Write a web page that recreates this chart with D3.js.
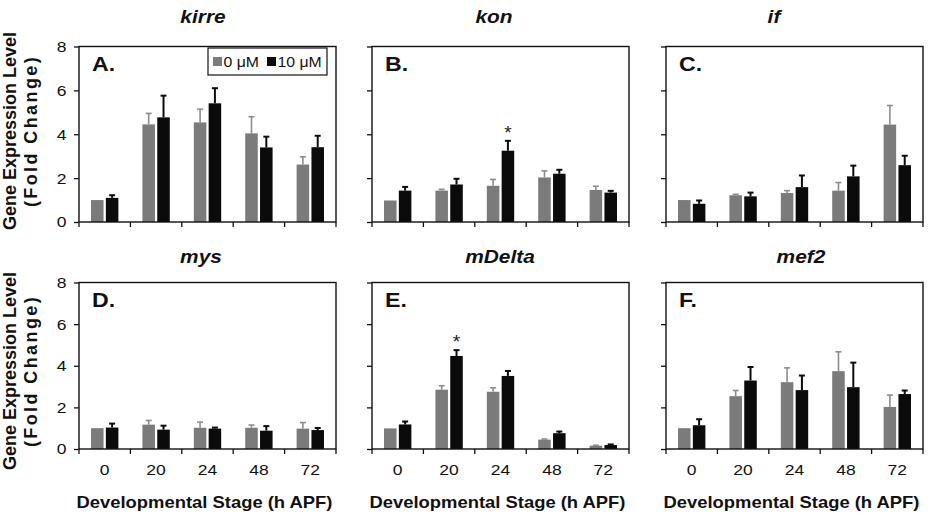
<!DOCTYPE html>
<html>
<head>
<meta charset="utf-8">
<script src="https://cdn.jsdelivr.net/npm/d3@7"></script>
<style>
  body { margin: 0; background: #fff; }
  svg { display: block; font-family: "Liberation Sans", Arial, sans-serif; }
</style>
</head>
<body>
<svg id="chart" width="930" height="516"></svg>
<script>
// stages (h APF) and genes, one panel per gene
const stages = ['0', '20', '24', '48', '72'];
const genes = ['kirre', 'kon', 'if', 'mys', 'mDelta', 'mef2'];
const panelLetters = ['A.', 'B.', 'C.', 'D.', 'E.', 'F.'];
const seriesNames = ['0 μM', '10 μM'];

// fold change, 0 µM (grey) and 10 µM (black), with upper error
const ctrlMean = [
  [1.0, 4.45, 4.54, 4.04, 2.62],
  [0.98, 1.43, 1.65, 2.03, 1.46],
  [1.0, 1.22, 1.32, 1.43, 4.44],
  [1.0, 1.17, 1.02, 1.02, 0.98],
  [0.99, 2.85, 2.75, 0.45, 0.16],
  [1.0, 2.54, 3.21, 3.74, 2.02],
];
const ctrlErr = [
  [0, 0.5, 0.6, 0.76, 0.35],
  [0, 0.06, 0.29, 0.3, 0.17],
  [0, 0.04, 0.11, 0.37, 0.87],
  [0, 0.2, 0.27, 0.13, 0.29],
  [0, 0.19, 0.19, 0.03, 0.02],
  [0, 0.27, 0.69, 0.93, 0.57],
];
const trtMean = [
  [1.1, 4.77, 5.41, 3.4, 3.41],
  [1.43, 1.71, 3.25, 2.2, 1.34],
  [0.83, 1.17, 1.59, 2.08, 2.59],
  [1.03, 0.93, 0.98, 0.88, 0.91],
  [1.18, 4.47, 3.51, 0.76, 0.19],
  [1.14, 3.29, 2.83, 2.97, 2.64],
];
const trtErr = [
  [0.12, 0.99, 0.69, 0.49, 0.52],
  [0.17, 0.26, 0.45, 0.18, 0.08],
  [0.15, 0.17, 0.53, 0.49, 0.43],
  [0.19, 0.19, 0.05, 0.22, 0.1],
  [0.14, 0.28, 0.24, 0.08, 0.03],
  [0.29, 0.65, 0.7, 1.18, 0.17],
];
// asterisks: [panel index, stage]
const sigMarks = [[1, '24'], [4, '20']];
const yTicks = [0, 2, 4, 6, 8];

const colors = { ctrl: '#7b7b7b', trt: '#0b0b0b' };
const errColors = { ctrl: '#8c8c8c', trt: '#0b0b0b' };
const SX = 1.13; // the source image is a bit wide

const svg = d3.select('#chart');

const colLeft = [79, 372, 666];
const plotW = 257;
const rowTop = [46.5, 282.5];
const rowBottom = [222, 449];
const titleCx = [203, 494, 774, 201, 500, 801];

const stretch = (sel) => sel.attr('transform', function () {
  const x = +d3.select(this).attr('x') || 0;
  return `translate(${x * (1 - SX)},0) scale(${SX},1)`;
});

genes.forEach((gene, p) => {
  const col = p % 3;
  const row = Math.floor(p / 3);
  const left = colLeft[col];
  const right = left + plotW;
  const top = rowTop[row];
  const bottom = rowBottom[row];

  const x = d3.scaleBand().domain(stages).range([left, right]).padding(0);
  const xs = d3.scaleBand().domain(['ctrl', 'trt']).range([0, x.bandwidth()])
    .paddingInner(0.155).paddingOuter(0.81);
  const y = d3.scaleLinear().domain([0, 8]).range([bottom, top]);

  const g = svg.append('g');

  // y axis
  const yAxis = d3.axisLeft(y).tickValues(yTicks).tickSize(5).tickPadding(6)
    .tickFormat(col === 0 ? d3.format('d') : () => '');
  const ya = g.append('g').attr('transform', `translate(${left},0)`).call(yAxis);
  ya.select('.domain').remove();
  ya.selectAll('line').attr('stroke', '#111').attr('stroke-width', 1.3);
  ya.selectAll('text').attr('font-size', 15.5).attr('fill', '#111').attr('font-family', null)
    .attr('transform', `scale(${SX},1)`);

  // x axis: labels at band centres, ticks at band edges
  const xa = g.append('g').attr('transform', `translate(0,${bottom})`)
    .call(d3.axisBottom(x).tickSize(0).tickPadding(15)
      .tickFormat(row === 1 ? (d) => d : () => ''));
  xa.select('.domain').remove();
  xa.selectAll('text').attr('font-size', 15.5).attr('fill', '#111').attr('font-family', null)
    .attr('transform', `scale(${SX},1)`);
  const edges = stages.map((s) => x(s)).concat([right]);
  g.selectAll('.xtick').data(edges).join('line')
    .attr('class', 'xtick')
    .attr('x1', (d) => d).attr('x2', (d) => d)
    .attr('y1', bottom).attr('y2', bottom + 5)
    .attr('stroke', '#111').attr('stroke-width', 1.3);

  // bars
  const rows = stages.map((s, i) => ({
    stage: s,
    vals: [
      { key: 'ctrl', mean: ctrlMean[p][i], err: ctrlErr[p][i] },
      { key: 'trt', mean: trtMean[p][i], err: trtErr[p][i] },
    ],
  }));

  const groups = g.selectAll('.stage').data(rows).join('g')
    .attr('class', 'stage')
    .attr('transform', (d) => `translate(${x(d.stage)},0)`);

  groups.selectAll('rect').data((d) => d.vals).join('rect')
    .attr('x', (d) => xs(d.key))
    .attr('width', xs.bandwidth())
    .attr('y', (d) => y(d.mean))
    .attr('height', (d) => y(0) - y(d.mean))
    .attr('fill', (d) => colors[d.key]);

  const errs = groups.selectAll('.err').data((d) => d.vals.filter((v) => v.err > 0)).join('g')
    .attr('class', 'err')
    .attr('stroke', (d) => errColors[d.key])
    .attr('stroke-width', (d) => (d.key === 'trt' ? 2 : 1.6));
  errs.append('line')
    .attr('x1', (d) => xs(d.key) + xs.bandwidth() / 2)
    .attr('x2', (d) => xs(d.key) + xs.bandwidth() / 2)
    .attr('y1', (d) => y(d.mean))
    .attr('y2', (d) => y(d.mean + d.err));
  errs.append('line')
    .attr('x1', (d) => xs(d.key) + xs.bandwidth() / 2 - 3)
    .attr('x2', (d) => xs(d.key) + xs.bandwidth() / 2 + 3)
    .attr('y1', (d) => y(d.mean + d.err))
    .attr('y2', (d) => y(d.mean + d.err));

  // significance marks
  sigMarks.filter((m) => m[0] === p).forEach((m) => {
    const i = stages.indexOf(m[1]);
    g.append('text')
      .attr('x', x(m[1]) + xs('trt') + xs.bandwidth() / 2)
      .attr('y', y(trtMean[p][i] + trtErr[p][i]) - 2)
      .attr('text-anchor', 'middle')
      .attr('font-size', 19)
      .attr('fill', '#222')
      .text('*');
  });

  // frame
  g.append('rect')
    .attr('x', left).attr('y', top)
    .attr('width', plotW).attr('height', bottom - top)
    .attr('fill', 'none').attr('stroke', '#111').attr('stroke-width', 1.4);

  // panel letter
  g.append('text')
    .attr('x', left + 13).attr('y', top + 25)
    .attr('font-size', 20.5).attr('font-weight', 'bold').attr('fill', '#111')
    .text(panelLetters[p])
    .call(stretch);

  // gene title
  g.append('text')
    .attr('x', titleCx[p]).attr('y', row === 0 ? 23 : 263)
    .attr('text-anchor', 'middle')
    .attr('font-size', 18.5).attr('font-weight', 'bold').attr('font-style', 'italic')
    .attr('fill', '#111')
    .text(gene)
    .call(stretch);

  // x title on bottom row
  if (row === 1) {
    g.append('text')
      .attr('x', (left + right) / 2 - 3).attr('y', 508)
      .attr('text-anchor', 'middle')
      .attr('font-size', 16.3).attr('font-weight', 'bold').attr('fill', '#111')
      .text('Developmental Stage (h APF)')
      .call(stretch);
  }

  // y title on left column
  if (col === 0) {
    const cy = row === 0 ? 131 : 371;
    g.append('text')
      .attr('transform', `translate(16,${cy}) rotate(-90)`)
      .attr('text-anchor', 'middle')
      .attr('font-size', 18).attr('font-weight', 'bold').attr('fill', '#111')
      .text('Gene Expression Level');
    g.append('text')
      .attr('transform', `translate(37,${cy}) rotate(-90)`)
      .attr('text-anchor', 'middle')
      .attr('font-size', 18).attr('font-weight', 'bold').attr('fill', '#111')
      .attr('letter-spacing', 2.4)
      .text('(Fold Change)');
  }

  // legend (panel A only)
  if (p === 0) {
    const lg = g.append('g').attr('transform', `translate(${left + 129},${top + 1.5})`);
    lg.append('rect').attr('width', 119).attr('height', 27)
      .attr('fill', '#fff').attr('stroke', '#111').attr('stroke-width', 1.2);
    const items = [{ key: 'ctrl', x: 5 }, { key: 'trt', x: 59 }];
    items.forEach((it, k) => {
      lg.append('rect').attr('x', it.x).attr('y', 9).attr('width', 9).attr('height', 9)
        .attr('fill', colors[it.key]);
      lg.append('text').attr('x', it.x + 10.5).attr('y', 19)
        .attr('font-size', 14).attr('fill', '#111')
        .text(seriesNames[k])
        .call(stretch);
    });
  }
});
</script>
</body>
</html>
